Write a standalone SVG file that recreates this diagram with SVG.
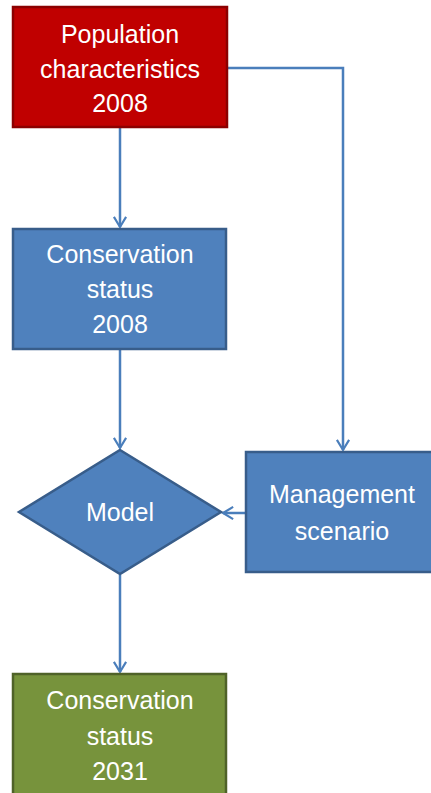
<svg xmlns="http://www.w3.org/2000/svg" width="431" height="793" viewBox="0 0 431 793">
<defs>
<style>
.lbl{font-family:"Liberation Sans",Arial,sans-serif;font-size:25px;fill:#ffffff;text-anchor:middle}
.blue{fill:#4F81BD;stroke:#385D8A;stroke-width:2.5}
.red{fill:#C00000;stroke:#8C0000;stroke-width:2.5}
.green{fill:#77933C;stroke:#4F6228;stroke-width:2.5}
.conn{fill:none;stroke:#4A7EBB;stroke-width:2.5;marker-end:url(#arr)}
</style>
<marker id="arr" viewBox="0 0 12 12" refX="10" refY="6" markerWidth="6.5" markerHeight="6.5" orient="auto" markerUnits="strokeWidth">
<polyline points="2.5,1.5 10,6 2.5,10.5" fill="none" stroke="#4A7EBB" stroke-width="1.6" stroke-linejoin="miter"/>
</marker>
</defs>
<rect width="431" height="793" fill="#ffffff"/>
<g id="connectors">
<line class="conn" x1="120" y1="128" x2="120" y2="227"/>
<polyline class="conn" points="227,68 343,68 343,450"/>
<line class="conn" x1="120" y1="350" x2="120" y2="448"/>
<line class="conn" x1="246" y1="513" x2="223" y2="513"/>
<line class="conn" x1="120" y1="575" x2="120" y2="672"/>
</g>
<g id="pop">
<rect class="red" x="13" y="7" width="214" height="120"/>
<text class="lbl" x="120" y="43">Population</text>
<text class="lbl" x="120" y="78">characteristics</text>
<text class="lbl" x="120" y="112">2008</text>
</g>
<g id="cons2008">
<rect class="blue" x="13" y="229" width="213" height="120"/>
<text class="lbl" x="120" y="263">Conservation</text>
<text class="lbl" x="120" y="298">status</text>
<text class="lbl" x="120" y="333">2008</text>
</g>
<g id="model">
<polygon class="blue" points="120,450 221,512 120,574 19,512"/>
<text class="lbl" x="120" y="521">Model</text>
</g>
<g id="mgmt">
<rect class="blue" x="246" y="452" width="190" height="120"/>
<text class="lbl" x="342" y="503">Management</text>
<text class="lbl" x="342" y="540">scenario</text>
</g>
<g id="cons2031">
<rect class="green" x="13" y="674" width="213" height="125"/>
<text class="lbl" x="120" y="709">Conservation</text>
<text class="lbl" x="120" y="745">status</text>
<text class="lbl" x="120" y="780">2031</text>
</g>
</svg>
